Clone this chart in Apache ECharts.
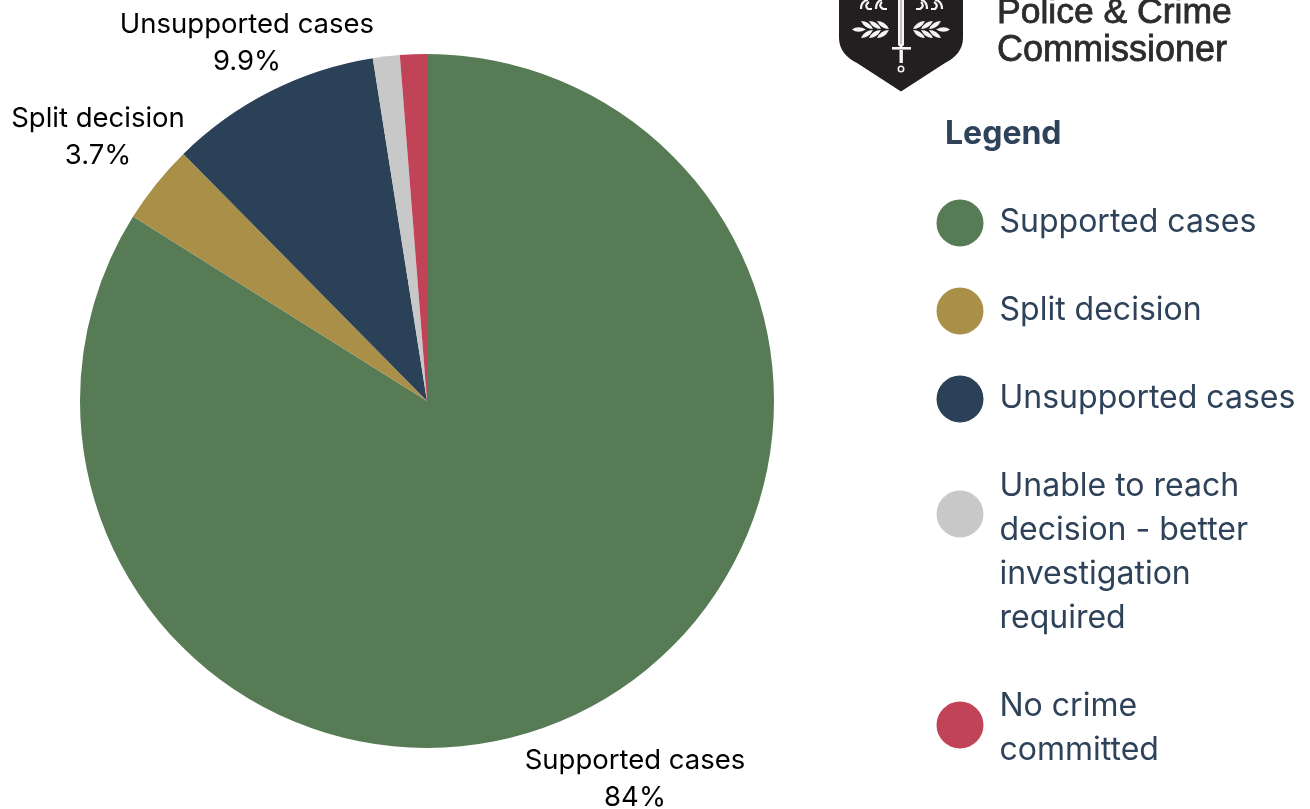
<!DOCTYPE html>
<html>
<head>
<meta charset="utf-8">
<style>html,body{margin:0;padding:0;background:#fff}#chart{width:1310px;height:809px}</style>
<script src="https://cdn.jsdelivr.net/npm/echarts@6/dist/echarts.min.js"></script>
</head>
<body>
<div id="chart"></div>
<script>
// Outcome shares, in percent, clockwise from twelve o'clock
const categories = ['Supported cases', 'Split decision', 'Unsupported cases', 'Unable to reach decision - better investigation required', 'No crime committed'];
const shares = [84, 3.7, 9.9, 1.25, 1.25];
const shownLabels = ['84%', '3.7%', '9.9%', null, null];
const colors = ['#567b55', '#a98f47', '#2b4158', '#c8c8c8', '#c14357'];
const legendLines = [
  ['Supported cases'],
  ['Split decision'],
  ['Unsupported cases'],
  ['Unable to reach', 'decision - better', 'investigation', 'required'],
  ['No crime', 'committed']
];
const legendTitle = 'Legend';
const logoLines = ['Police & Crime', 'Commissioner'];

const UI_FONT = 'Inter, "Noto Sans", sans-serif';
const LOGO_FAMILY = '"Liberation Sans", Arial, sans-serif';
const LOGO_INK = '#2d2b2c';
const INK = '#2e4259';

// Pie label anchors: horizontal centre and top of the two-line block
const labelAnchors = [[635, 742.5], [98, 100.5], [247, 6.5]];
// Legend rows: circle centre y and first text line centre y
const legendRows = [[223, 222], [311, 310], [399, 398], [514, 486], [725, 706]];

const legendGraphics = [];
legendRows.forEach(function (row, i) {
  legendGraphics.push({
    type: 'circle', silent: true,
    shape: { cx: 960, cy: row[0], r: 23.5 },
    style: { fill: colors[i] }
  });
  legendGraphics.push({
    type: 'text', silent: true, x: 999.5, y: row[1] - 22,
    style: {
      text: legendLines[i].join('\n'), font: '400 32px ' + UI_FONT, fill: INK,
      lineHeight: 44, verticalAlign: 'top', align: 'left'
    }
  });
});

// Custom outlines for the crest, registered as graphic shape types
function crestPath(name, pathData) {
  echarts.graphic.registerShape(name, echarts.graphic.extendPath(pathData, {}));
  return { type: name, style: { fill: '#f4f4f4' } };
}
const shield = crestPath('crestShield', 'M839 -5 L963 -5 L963 38 C963 50 955 58 945 63 L901 91.5 L857 63 C847 58 839 50 839 38 Z');
shield.style = { fill: '#231f20' };

// One spray of laurel: a tip leaf and three pairs of curved leaves
const laurelLeft =
  'M852 29.5 Q858 25 866 29.5 Q858 34 852 29.5 Z ' +
  'M861 21 Q869 21 873 29 Q865 29 861 21 Z M861 38 Q869 38 873 30 Q865 30 861 38 Z ' +
  'M869 21 Q877 21 881 29 Q873 29 869 21 Z M869 38 Q877 38 881 30 Q873 30 869 38 Z ' +
  'M877 21 Q885 21 889 29 Q881 29 877 21 Z M877 38 Q885 38 889 30 Q881 30 877 38 Z';
const laurelRight =
  'M950 29.5 Q944 25 936 29.5 Q944 34 950 29.5 Z ' +
  'M941 21 Q933 21 929 29 Q937 29 941 21 Z M941 38 Q933 38 929 30 Q937 30 941 38 Z ' +
  'M933 21 Q925 21 921 29 Q929 29 933 21 Z M933 38 Q925 38 921 30 Q929 30 933 38 Z ' +
  'M925 21 Q917 21 913 29 Q921 29 925 21 Z M925 38 Q917 38 913 30 Q921 30 925 38 Z';

// Curled heraldic beasts at the top of the shield, as open strokes
function crestCurl(name, pathData) {
  const el = crestPath(name, pathData);
  el.style = { fill: 'none', stroke: '#f4f4f4', lineWidth: 2.2 };
  return el;
}

// Shield with sword and laurel, cut by the top edge of the page
const crest = {
  type: 'group', silent: true,
  children: [
    shield,
    crestPath('crestBlade', 'M898 -5 L904 -5 L904 45 L901 48 L898 45 Z'),
    { type: 'rect', shape: { x: 892, y: 47, width: 19, height: 2.6 }, style: { fill: '#f4f4f4' } },
    { type: 'rect', shape: { x: 899.5, y: 50, width: 3.4, height: 13 }, style: { fill: '#f4f4f4' } },
    { type: 'circle', shape: { cx: 901, cy: 69, r: 2.7 }, style: { fill: 'none', stroke: '#f4f4f4', lineWidth: 1.6 } },
    { type: 'line', shape: { x1: 901, y1: -5, x2: 901, y2: 44 }, style: { stroke: '#9a9a9a', lineWidth: 1.2 } },
    crestPath('crestLaurelLeft', laurelLeft),
    crestPath('crestLaurelRight', laurelRight),
    crestCurl('crestCurlLeft', 'M861 9 Q861 1 868 0 M869 2 Q864 5 868 9 L872 9 M876 9 Q876 1 882 0 M882 2 Q878 6 883 9 L887 9'),
    crestCurl('crestCurlRight', 'M942 9 Q942 1 935 0 M934 2 Q939 5 935 9 L931 9 M927 9 Q927 1 921 0 M921 2 Q925 6 920 9 L916 9'),
    { type: 'text', x: 997, y: 13, style: { text: logoLines[0], font: '400 35.5px ' + LOGO_FAMILY, fill: LOGO_INK, stroke: LOGO_INK, lineWidth: 0.8, verticalAlign: 'middle' } },
    { type: 'text', x: 997, y: 51, style: { text: logoLines[1], font: '400 36px ' + LOGO_FAMILY, fill: LOGO_INK, stroke: LOGO_INK, lineWidth: 0.8, verticalAlign: 'middle' } }
  ]
};

const chart = echarts.init(document.getElementById('chart'), null, { renderer: 'canvas' });
chart.setOption({
  animation: false,
  backgroundColor: '#fff',
  series: [{
    type: 'pie',
    center: [427, 401],
    radius: [0, 347],
    startAngle: 90,
    clockwise: true,
    avoidLabelOverlap: false,
    minShowLabelAngle: 0,
    silent: true,
    data: categories.map(function (name, i) {
      return {
        name: name,
        value: shares[i],
        itemStyle: { color: colors[i] },
        label: { show: shownLabels[i] !== null },
        labelLine: { show: false }
      };
    }),
    label: {
      position: 'outside',
      color: '#000',
      fontFamily: UI_FONT,
      fontSize: 27.5,
      lineHeight: 37,
      align: 'center',
      verticalAlign: 'top',
      formatter: function (p) { return p.name + '\n' + shownLabels[p.dataIndex]; }
    },
    labelLine: { show: false },
    labelLayout: function (p) {
      const a = labelAnchors[p.dataIndex];
      return a ? { x: a[0], y: a[1], align: 'center', verticalAlign: 'top' } : {};
    }
  }],
  graphic: [
    crest,
    {
      type: 'text', x: 945, y: 134, silent: true,
      style: { text: legendTitle, font: '700 32px ' + UI_FONT, fill: INK, verticalAlign: 'middle' }
    }
  ].concat(legendGraphics)
});
</script>
</body>
</html>
